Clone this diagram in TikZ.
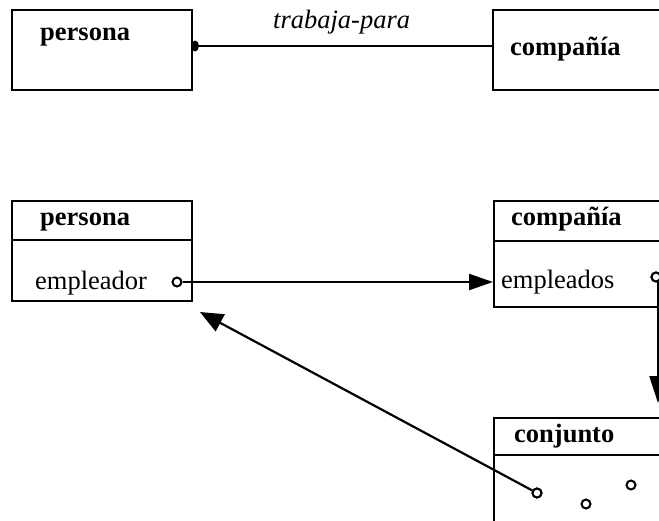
\documentclass[tikz,border=0pt]{standalone}
\usepackage{fontspec}
\setmainfont{Liberation Serif}
\usetikzlibrary{arrows.meta}
\begin{document}
\begin{tikzpicture}[x=1pt,y=-1pt,
  box/.style={draw,line width=2.2pt,rectangle,inner sep=0pt,anchor=north west},
  lbl/.style={inner sep=0pt,anchor=base west,font=\fontsize{26.5}{30}\selectfont},
  title/.style={lbl,font=\fontsize{26.5}{30}\selectfont\bfseries},
  slot/.style={circle,draw,line width=2pt,fill=white,inner sep=0pt,minimum size=9pt},
  link/.style={line width=2.2pt},
  ref/.style={line width=2.2pt,-{Triangle[length=24pt,width=16pt]}}]
\useasboundingbox (0,0) rectangle (659,520);
\clip (0,0) rectangle (659,520);

% association view
\node[box,minimum width=180pt,minimum height=80pt] (p1) at (11,9) {};
\node[title] (p1t) at (40,40) {persona};
\node[box,minimum width=200pt,minimum height=80pt] (c1) at (492,9) {};
\node[title] (c1t) at (510,55) {compañía};
\coordinate (p1e) at (195,46);
\draw[link] (p1e) -- (p1e -| c1.west);
\fill (p1e) ellipse (4pt and 5.5pt);
\node[lbl,font=\fontsize{26.5}{30}\selectfont\itshape] (rel) at (273,28) {trabaja-para};

% object view
\node[box,minimum width=180pt,minimum height=100pt] (p2) at (11,200) {};
\draw[line width=2.2pt] (11,240) -- (191,240);
\node[title] (p2t) at (40,225) {persona};
\node[lbl] (p2a) at (35,289) {empleador};
\node[slot] (s1) at (177,282) {};

\node[box,minimum width=200pt,minimum height=106pt] (c2) at (493,200) {};
\draw[line width=2.2pt] (493,241) -- (693,241);
\node[title] (c2t) at (511,225) {compañía};
\node[lbl] (c2a) at (501,288) {empleados};
\node[slot] (s2) at (656,277) {};

\node[box,minimum width=200pt,minimum height=130pt] (k) at (493,417) {};
\draw[line width=2.2pt] (493,455) -- (693,455);
\node[title] (kt) at (514,442) {conjunto};
\node[slot] (e1) at (537,493) {};
\node[slot] (e2) at (586,504) {};
\node[slot] (e3) at (631,485) {};

\coordinate (kt0) at (658,403);
\coordinate (pt0) at (200,312);
\draw[ref] (s1) -- (s1 -| c2.west);
\draw[ref,-{Triangle[length=27pt,width=17pt]}] (658,282) -- (kt0);
\draw[ref,-{Triangle[length=23pt,width=19pt]}] (e1) -- (pt0);
\node[slot] at (s2) {};
\node[slot] at (e1) {};
\end{tikzpicture}
\end{document}
